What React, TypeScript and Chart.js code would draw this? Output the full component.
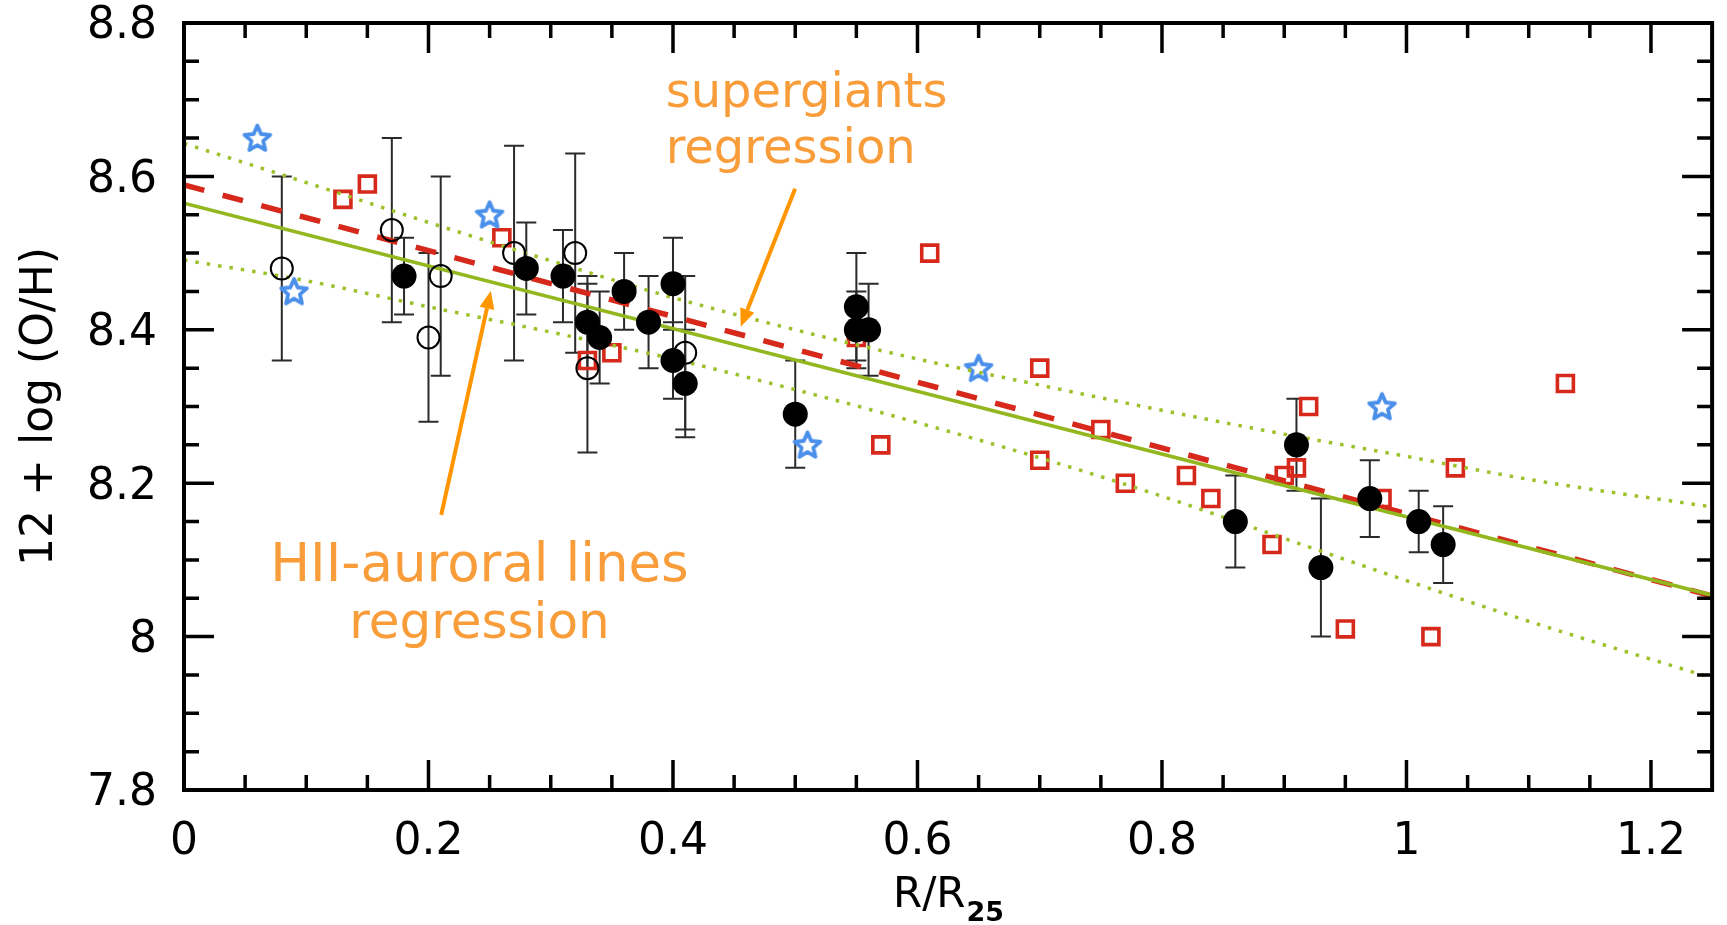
import React, { useEffect, useRef } from 'react';
import { Chart, registerables } from 'chart.js';

Chart.register(...registerables);

// ---------- data ----------
// HII regions, auroral lines (filled circles, with error bars)
const hiiAuroralR = [0.18, 0.28, 0.31, 0.33, 0.34, 0.36, 0.38, 0.40, 0.40, 0.41, 0.50, 0.55, 0.55, 0.56, 0.86, 0.91, 0.93, 0.97, 1.01, 1.03];
const hiiAuroralOH = [8.47, 8.48, 8.47, 8.41, 8.39, 8.45, 8.41, 8.46, 8.36, 8.33, 8.29, 8.43, 8.40, 8.40, 8.15, 8.25, 8.09, 8.18, 8.15, 8.12];
const hiiAuroralErr = [0.05, 0.06, 0.06, 0.06, 0.06, 0.05, 0.06, 0.06, 0.05, 0.07, 0.07, 0.07, 0.05, 0.06, 0.06, 0.06, 0.09, 0.05, 0.04, 0.05];

// other HII regions (open circles, with error bars)
const hiiOtherR = [0.08, 0.17, 0.20, 0.21, 0.27, 0.32, 0.33, 0.41];
const hiiOtherOH = [8.48, 8.53, 8.39, 8.47, 8.50, 8.50, 8.35, 8.37];
const hiiOtherErr = [0.12, 0.12, 0.11, 0.13, 0.14, 0.13, 0.11, 0.10];

// supergiants (open red squares)
const sgR = [0.13, 0.15, 0.26, 0.33, 0.35, 0.55, 0.57, 0.61, 0.70, 0.70, 0.75, 0.77, 0.82, 0.84, 0.89, 0.90, 0.91, 0.92, 0.95, 0.98, 1.02, 1.04, 1.13];
const sgOH = [8.57, 8.59, 8.52, 8.36, 8.37, 8.39, 8.25, 8.50, 8.35, 8.23, 8.27, 8.20, 8.21, 8.18, 8.12, 8.21, 8.22, 8.30, 8.01, 8.18, 8.00, 8.22, 8.33];

// blue stars
const starR = [0.06, 0.09, 0.25, 0.51, 0.65, 0.98];
const starOH = [8.65, 8.45, 8.55, 8.25, 8.35, 8.30];

// regressions
const fitR = [0, 1.25];
const hiiFitOH = [8.565, 8.054];
const sgFitOH = [8.589, 8.053];

// confidence band of the HII regression (dotted)
const bandR = [0, 0.1, 0.2, 0.3, 0.4, 0.5, 0.6, 0.7, 0.8, 0.9, 1.0, 1.1, 1.25];
const bandUpperOH = [8.643, 8.592, 8.540, 8.490, 8.442, 8.400, 8.362, 8.328, 8.295, 8.264, 8.235, 8.205, 8.169];
const bandLowerOH = [8.491, 8.464, 8.430, 8.397, 8.362, 8.322, 8.279, 8.233, 8.183, 8.128, 8.073, 8.020, 7.946];

// axes
const xMajorTicks = [0, 0.2, 0.4, 0.6, 0.8, 1, 1.2];
const xMinorTicks = [0.05, 0.1, 0.15, 0.25, 0.3, 0.35, 0.45, 0.5, 0.55, 0.65, 0.7, 0.75, 0.85, 0.9, 0.95, 1.05, 1.1, 1.15];
const yMajorTicks = [7.8, 8, 8.2, 8.4, 8.6, 8.8];
const yMinorTicks = [7.85, 7.9, 7.95, 8.05, 8.1, 8.15, 8.25, 8.3, 8.35, 8.45, 8.5, 8.55, 8.65, 8.7, 8.75];
const xTitleMain = 'R/R';
const xTitleSub = '25';
const yTitle = '12 + log (O/H)';

// annotations
const sgNoteLines = ['supergiants', 'regression'];
const hiiNoteLines = ['HII-auroral lines', 'regression'];
const sgNoteAnchor = { r: 0.394, oh: [8.6905, 8.6175] };
const hiiNoteAnchor = { r: 0.2417, oh: [8.0725, 7.9982] };
const sgArrow = { from: [0.4999, 8.584], to: [0.4554, 8.404] };
const hiiArrow = { from: [0.2104, 8.1585], to: [0.251, 8.451] };

// ---------- styles ----------
const FONT = "'DejaVu Sans', sans-serif";
const GREEN = '#93B71F';
const GREEN_DOT = '#9DC12A';
const RED = '#D6281B';
const BLUE = '#4A8FEA';
const ORANGE_TEXT = '#F99D3B';
const ORANGE_ARROW = '#FF9600';

const pts = (xs: number[], ys: number[]) => xs.map((x, i) => ({ x, y: ys[i] }));
const fmt = (v: number) => String(Math.round(v * 10) / 10);

function makeStar(): HTMLCanvasElement {
  const c = document.createElement('canvas');
  c.width = 34;
  c.height = 34;
  const g = c.getContext('2d') as CanvasRenderingContext2D;
  const R = 13.5, r = 6.2, cx = 17, cy = 18;
  g.beginPath();
  for (let k = 0; k < 10; k++) {
    const a = -Math.PI / 2 + (k * Math.PI) / 5;
    const rad = k % 2 === 0 ? R : r;
    g.lineTo(cx + rad * Math.cos(a), cy + rad * Math.sin(a));
  }
  g.closePath();
  g.fillStyle = '#fff';
  g.fill();
  g.lineJoin = 'round';
  g.lineWidth = 3.8;
  g.strokeStyle = BLUE;
  g.stroke();
  return c;
}

const errorBarsPlugin = {
  id: 'errorBars',
  beforeDatasetsDraw(chart: any) {
    const { ctx, scales } = chart;
    const x = scales.x, y = scales.y;
    ctx.save();
    ctx.strokeStyle = '#2b2b2b';
    ctx.lineWidth = 2;
    const draw = (R: number[], OH: number[], E: number[]) => {
      R.forEach((r, i) => {
        const px = x.getPixelForValue(r);
        const t = y.getPixelForValue(OH[i] + E[i]);
        const b = y.getPixelForValue(OH[i] - E[i]);
        ctx.beginPath();
        ctx.moveTo(px, t);
        ctx.lineTo(px, b);
        ctx.moveTo(px - 10, t);
        ctx.lineTo(px + 10, t);
        ctx.moveTo(px - 10, b);
        ctx.lineTo(px + 10, b);
        ctx.stroke();
      });
    };
    draw(hiiOtherR, hiiOtherOH, hiiOtherErr);
    draw(hiiAuroralR, hiiAuroralOH, hiiAuroralErr);
    ctx.restore();
  },
};

const framePlugin = {
  id: 'frameTicks',
  afterDatasetsDraw(chart: any) {
    const { ctx, chartArea, scales } = chart;
    const { left, right, top, bottom } = chartArea;
    const x = scales.x, y = scales.y;
    ctx.save();
    ctx.strokeStyle = '#000';
    ctx.lineCap = 'butt';
    ctx.lineWidth = 3.5;
    const vt = (v: number, len: number) => {
      const px = x.getPixelForValue(v);
      ctx.beginPath();
      ctx.moveTo(px, bottom);
      ctx.lineTo(px, bottom - len);
      ctx.moveTo(px, top);
      ctx.lineTo(px, top + len);
      ctx.stroke();
    };
    const ht = (v: number, len: number) => {
      const py = y.getPixelForValue(v);
      ctx.beginPath();
      ctx.moveTo(left, py);
      ctx.lineTo(left + len, py);
      ctx.moveTo(right, py);
      ctx.lineTo(right - len, py);
      ctx.stroke();
    };
    xMajorTicks.forEach((v) => vt(v, 30));
    xMinorTicks.forEach((v) => vt(v, 15));
    yMajorTicks.forEach((v) => ht(v, 30));
    yMinorTicks.forEach((v) => ht(v, 15));
    ctx.lineWidth = 4;
    ctx.strokeRect(left, top, right - left, bottom - top);
    ctx.restore();
  },
};

function arrow(ctx: CanvasRenderingContext2D, x0: number, y0: number, x1: number, y1: number) {
  const ang = Math.atan2(y1 - y0, x1 - x0);
  const head = 18, half = 7.5;
  const bx = x1 - head * Math.cos(ang), by = y1 - head * Math.sin(ang);
  ctx.beginPath();
  ctx.moveTo(x0, y0);
  ctx.lineTo(bx, by);
  ctx.stroke();
  ctx.beginPath();
  ctx.moveTo(x1, y1);
  ctx.lineTo(bx + half * Math.sin(ang), by - half * Math.cos(ang));
  ctx.lineTo(bx - half * Math.sin(ang), by + half * Math.cos(ang));
  ctx.closePath();
  ctx.fill();
}

const annotationPlugin = {
  id: 'notes',
  afterDraw(chart: any) {
    const { ctx, chartArea, scales } = chart;
    const x = scales.x, y = scales.y;
    ctx.save();
    // notes
    ctx.fillStyle = ORANGE_TEXT;
    ctx.textBaseline = 'alphabetic';
    ctx.font = `48px ${FONT}`;
    ctx.textAlign = 'left';
    sgNoteLines.forEach((t, i) => ctx.fillText(t, x.getPixelForValue(sgNoteAnchor.r), y.getPixelForValue(sgNoteAnchor.oh[i])));
    ctx.textAlign = 'center';
    hiiNoteLines.forEach((t, i) => {
      ctx.font = `${i === 0 ? 53 : 50}px ${FONT}`;
      ctx.fillText(t, x.getPixelForValue(hiiNoteAnchor.r), y.getPixelForValue(hiiNoteAnchor.oh[i]));
    });
    // arrows
    ctx.strokeStyle = ORANGE_ARROW;
    ctx.fillStyle = ORANGE_ARROW;
    ctx.lineWidth = 4;
    [sgArrow, hiiArrow].forEach((a) =>
      arrow(ctx, x.getPixelForValue(a.from[0]), y.getPixelForValue(a.from[1]), x.getPixelForValue(a.to[0]), y.getPixelForValue(a.to[1]))
    );
    // x axis title with subscript
    ctx.fillStyle = '#000';
    ctx.textAlign = 'left';
    ctx.font = `42px ${FONT}`;
    const w1 = ctx.measureText(xTitleMain).width;
    ctx.font = `bold 27px ${FONT}`;
    const w2 = ctx.measureText(xTitleSub).width;
    const cx = (chartArea.left + chartArea.right) / 2;
    const sx = cx - (w1 + w2) / 2;
    ctx.font = `42px ${FONT}`;
    ctx.fillText(xTitleMain, sx, chartArea.bottom + 117);
    ctx.font = `bold 27px ${FONT}`;
    ctx.fillText(xTitleSub, sx + w1 + 1, chartArea.bottom + 131);
    ctx.restore();
  },
};

export default function App() {
  const ref = useRef<HTMLCanvasElement | null>(null);

  useEffect(() => {
    if (!ref.current) return;
    const star = makeStar();
    const chart = new Chart(ref.current, {
      type: 'scatter',
      data: {
        datasets: [
          {
            label: 'HII auroral',
            data: pts(hiiAuroralR, hiiAuroralOH),
            pointRadius: 12.5,
            pointBackgroundColor: '#000',
            pointBorderWidth: 0,
            pointHoverRadius: 12.5,
          },
          {
            label: 'HII other',
            data: pts(hiiOtherR, hiiOtherOH),
            pointRadius: 11,
            pointBackgroundColor: 'rgba(0,0,0,0)',
            pointBorderColor: '#000',
            pointBorderWidth: 2,
          },
          {
            label: 'HII regression',
            data: pts(fitR, hiiFitOH),
            showLine: true,
            pointRadius: 0,
            borderColor: GREEN,
            borderWidth: 3.5,
          },
          {
            label: 'supergiants regression',
            data: pts(fitR, sgFitOH),
            showLine: true,
            pointRadius: 0,
            borderColor: RED,
            borderWidth: 5.5,
            borderDash: [21, 19],
          },
          {
            label: 'band upper',
            data: pts(bandR, bandUpperOH),
            showLine: true,
            pointRadius: 0,
            borderColor: GREEN_DOT,
            borderWidth: 3.5,
            borderDash: [3.5, 8],
            cubicInterpolationMode: 'monotone',
          },
          {
            label: 'band lower',
            data: pts(bandR, bandLowerOH),
            showLine: true,
            pointRadius: 0,
            borderColor: GREEN_DOT,
            borderWidth: 3.5,
            borderDash: [3.5, 8],
            cubicInterpolationMode: 'monotone',
          },
          {
            label: 'stars',
            data: pts(starR, starOH),
            pointStyle: star as any,
            pointRadius: 13,
          },
          {
            label: 'supergiants',
            data: pts(sgR, sgOH),
            pointStyle: 'rect',
            pointRadius: 11.3,
            pointBackgroundColor: 'rgba(255,255,255,0)',
            pointBorderColor: RED,
            pointBorderWidth: 3.6,
          },
        ] as any,
      },
      options: {
        animation: false,
        responsive: true,
        maintainAspectRatio: false,
        events: [],
        layout: { padding: { top: 23, right: 10, left: 0, bottom: 0 } },
        plugins: { legend: { display: false }, tooltip: { enabled: false } },
        scales: {
          x: {
            type: 'linear',
            min: 0,
            max: 1.25,
            afterBuildTicks: (s: any) => {
              s.ticks = xMajorTicks.map((v) => ({ value: v }));
            },
            afterFit: (s: any) => {
              s.height = 135;
            },
            grid: { display: false, drawTicks: true, tickLength: 26 },
            border: { display: false },
            ticks: {
              autoSkip: false,
              maxRotation: 0,
              padding: 0,
              color: '#000',
              font: { family: FONT, size: 44, lineHeight: 1.2 },
              callback: (v: any) => fmt(Number(v)),
            },
          },
          y: {
            type: 'linear',
            min: 7.8,
            max: 8.8,
            afterBuildTicks: (s: any) => {
              s.ticks = yMajorTicks.map((v) => ({ value: v }));
            },
            afterFit: (s: any) => {
              s.width = 184;
            },
            grid: { display: false, drawTicks: true, tickLength: 27 },
            border: { display: false },
            ticks: {
              autoSkip: false,
              padding: 0,
              labelOffset: 4,
              color: '#000',
              font: { family: FONT, size: 44, lineHeight: 1 },
              callback: (v: any) => fmt(Number(v)),
            },
            title: {
              display: true,
              text: yTitle,
              color: '#000',
              font: { family: FONT, size: 44, lineHeight: 1.2 },
              padding: { top: 14, bottom: 0 },
            },
          },
        },
      } as any,
      plugins: [errorBarsPlugin, framePlugin, annotationPlugin],
    });
    return () => chart.destroy();
  }, []);

  return (
    <div style={{ position: 'fixed', left: 0, top: 0, width: '1727px', height: '925px', background: '#fff' }}>
      <canvas ref={ref} />
    </div>
  );
}
